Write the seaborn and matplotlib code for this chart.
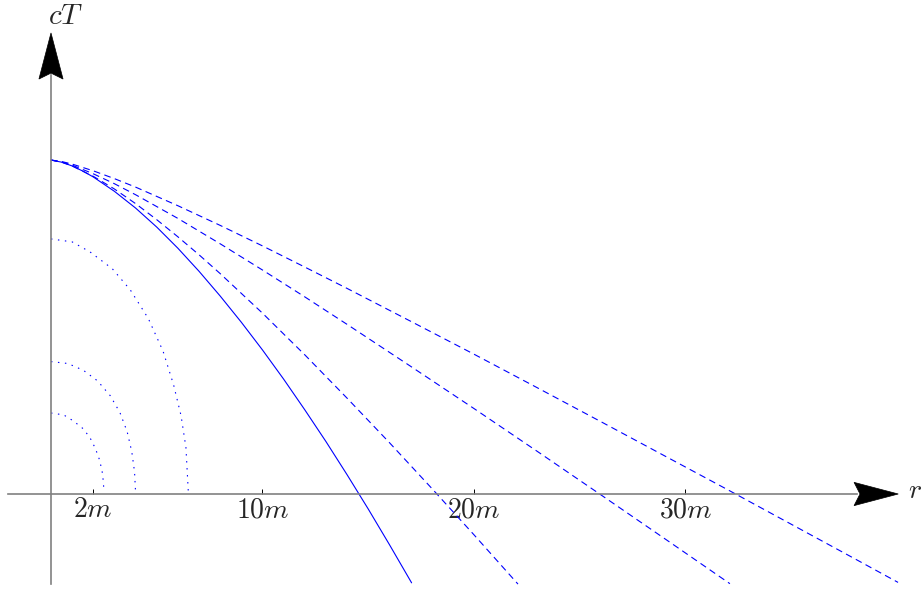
import numpy as np
import pandas as pd
import matplotlib
matplotlib.use("Agg")
import matplotlib.pyplot as plt
from matplotlib.patches import Polygon
import seaborn as sns

# ---- data (units of m) ----
solid_r = [0, 0.5, 1, 1.5, 2, 3, 4, 5, 6, 7, 8, 9, 10, 11, 12, 13, 14, 15, 16, 17.05]
solid_t = [15.79, 15.69, 15.51, 15.27, 14.99, 14.31, 13.52, 12.62, 11.62, 10.53,
           9.36, 8.12, 6.81, 5.43, 3.98, 2.48, 0.91, -0.71, -2.39, -4.20]

dash1_r = [0, 0.5, 1, 2, 3, 4, 5, 6, 7, 8, 10, 12, 14, 16, 18, 20, 22.08]
dash1_t = [15.79, 15.69, 15.51, 15.02, 14.42, 13.73, 12.97, 12.16, 11.31, 10.42,
           8.55, 6.58, 4.53, 2.43, 0.27, -1.93, -4.26]

dash2_r = [0, 0.5, 1, 2, 3, 4, 6, 8, 10, 12, 14, 17, 20, 23, 26, 29, 32.1]
dash2_t = [15.79, 15.70, 15.55, 15.14, 14.67, 14.15, 13.03, 11.83, 10.59, 9.32,
           8.02, 6.04, 4.04, 2.01, -0.04, -2.10, -4.24]

dash3_r = [0, 0.5, 1, 2, 3, 4, 6, 8, 10, 12, 14, 17, 20, 23, 26, 29, 32, 35, 38, 40.05]
dash3_t = [15.79, 15.72, 15.60, 15.28, 14.91, 14.51, 13.63, 12.70, 11.73, 10.73,
           9.72, 8.17, 6.61, 5.02, 3.42, 1.81, 0.20, -1.43, -3.06, -4.18]

dot1_r = [0, 0.6, 1.05, 1.53, 1.85, 2.10, 2.30, 2.42, 2.48, 2.50]
dot1_t = [3.83, 3.74, 3.46, 3.08, 2.65, 2.15, 1.60, 1.05, 0.55, 0.10]

dot2_r = [0, 0.8, 1.53, 2.2, 2.8, 3.26, 3.6, 3.82, 3.95, 4.0]
dot2_t = [6.26, 6.17, 5.85, 5.35, 4.65, 3.85, 2.95, 2.00, 1.05, 0.05]

dot3_r = [0, 1.0, 1.84, 2.9, 3.75, 4.6, 5.3, 5.8, 6.15, 6.38, 6.49]
dot3_t = [12.06, 11.92, 11.45, 10.65, 9.65, 8.30, 6.75, 5.15, 3.70, 2.20, 0.15]

tick_vals = [2, 10, 20, 30]
tick_labels = [r"$2m$", r"$10m$", r"$20m$", r"$30m$"]
x_label = r"$r$"
y_label = r"$cT$"

# ---- style ----
sns.set_theme(style="white")
plt.rcParams["mathtext.fontset"] = "cm"
plt.rcParams["font.family"] = ["DejaVu Sans"]

fig = plt.figure(figsize=(9.21, 5.93), dpi=100)
ax = fig.add_axes([0, 0, 1, 1])
ax.set_xlim(-2.411, 41.135)
ax.set_ylim(-4.681, 23.357)
ax.set_facecolor("white")

blue = "#0000ff"
curves = [
    (solid_r, solid_t, None),
    (dash1_r, dash1_t, (6, 4)),
    (dash2_r, dash2_t, (6, 4)),
    (dash3_r, dash3_t, (6, 4)),
    (dot1_r, dot1_t, (1.3, 5)),
    (dot2_r, dot2_t, (1.3, 5)),
    (dot3_r, dot3_t, (1.3, 5)),
]
for r, t, dashes in curves:
    df = pd.DataFrame({"r": r, "t": t})
    sns.lineplot(data=df, x="r", y="t", sort=False, estimator=None,
                 color=blue, lw=0.8, ax=ax)
    ln = ax.get_lines()[-1]
    if dashes is not None:
        ln.set_dashes(dashes)

# ---- axes as arrows ----
gray = "#808080"
for s in ["top", "right"]:
    ax.spines[s].set_visible(False)
ax.spines["left"].set_position(("data", 0))
ax.spines["bottom"].set_position(("data", 0))
ax.spines["left"].set_bounds(-4.26, 19.8)
ax.spines["bottom"].set_bounds(-2.03, 38.1)
for s in ["left", "bottom"]:
    ax.spines[s].set_color(gray)
    ax.spines[s].set_linewidth(1.2)
    ax.spines[s].set_visible(True)

ax.set_yticks([])
ax.set_xticks(tick_vals)
ax.set_xticklabels(tick_labels, fontsize=20)
ax.tick_params(axis="x", direction="in", length=3.5, width=0.7, color="black",
               pad=1, bottom=True)
ax.set_xlabel("")
ax.set_ylabel("")
ax.grid(False)

# arrowheads (black, notched)
xa = Polygon([[40.06, 0], [37.97, 0.55], [38.25, 0], [37.97, -0.55]],
             closed=True, facecolor="black", edgecolor="black", lw=0.5, zorder=5)
ya = Polygon([[0, 21.80], [0.57, 19.62], [0, 19.90], [-0.57, 19.62]],
             closed=True, facecolor="black", edgecolor="black", lw=0.5, zorder=5)
ax.add_patch(xa)
ax.add_patch(ya)

ax.text(40.52, -0.19, x_label, fontsize=20, ha="left", va="baseline")
ax.text(0.70, 22.2, y_label, fontsize=21, ha="center", va="baseline")

fig.savefig("out.png", dpi=100, facecolor="white")
